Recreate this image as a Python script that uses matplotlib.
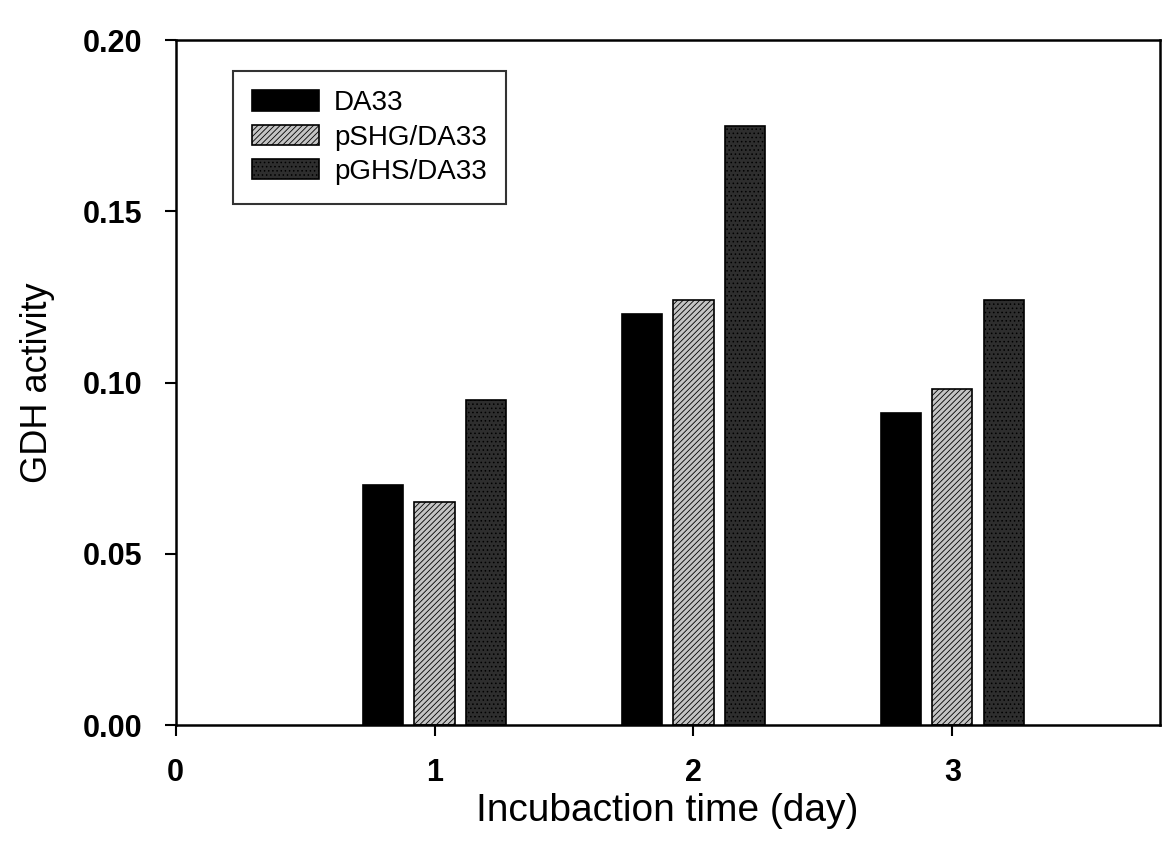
import numpy as np
import matplotlib
matplotlib.use('Agg')
import matplotlib.pyplot as plt

plt.rcParams['font.family'] = ['Liberation Sans', 'DejaVu Sans']
plt.rcParams['hatch.linewidth'] = 0.6

days = [1, 2, 3]
series = ['DA33', 'pSHG/DA33', 'pGHS/DA33']
da33 = [0.070, 0.120, 0.091]
pshg = [0.065, 0.124, 0.098]
pghs = [0.095, 0.175, 0.124]

faces = ['black', '#c4c4c4', '#2e2e2e']
hatches = [None, '//////', '....']

fig = plt.figure(figsize=(11.63, 8.52), dpi=100)
ax = fig.add_axes([0.151, 0.149, 0.846, 0.804])

x = np.array(days, dtype=float)
width = 0.155
offsets = [-0.2, 0.0, 0.2]
for vals, off, fc, h, name in zip([da33, pshg, pghs], offsets, faces, hatches, series):
    ax.bar(x + off, vals, width, color=fc, edgecolor='black', linewidth=1.2,
           hatch=h, label=name)

ax.set_xlim(0, 3.8)
ax.set_ylim(0, 0.20)
ax.set_xticks([0, 1, 2, 3])
ax.set_yticks([0.00, 0.05, 0.10, 0.15, 0.20])
ax.set_yticklabels(['0.00', '0.05', '0.10', '0.15', '0.20'])
ax.tick_params(direction='out', length=8, width=1.5, labelsize=22)
ax.tick_params(axis='y', pad=16)
ax.tick_params(axis='x', pad=16)
for lab in ax.get_xticklabels() + ax.get_yticklabels():
    lab.set_fontweight('bold')
for sp in ax.spines.values():
    sp.set_linewidth(1.8)

ax.set_xlabel('Incubaction time (day)', fontsize=28, labelpad=3)
ax.set_ylabel('GDH activity', fontsize=26, labelpad=20)

leg = ax.legend(loc='upper left', bbox_to_anchor=(0.058, 0.955), fontsize=20,
                frameon=True, fancybox=False, edgecolor='black',
                handlelength=2.4, handleheight=0.75, borderpad=0.7,
                labelspacing=0.3, handletextpad=0.55, borderaxespad=0)
leg.get_frame().set_linewidth(1.5)

fig.savefig('out.png', dpi=100)
